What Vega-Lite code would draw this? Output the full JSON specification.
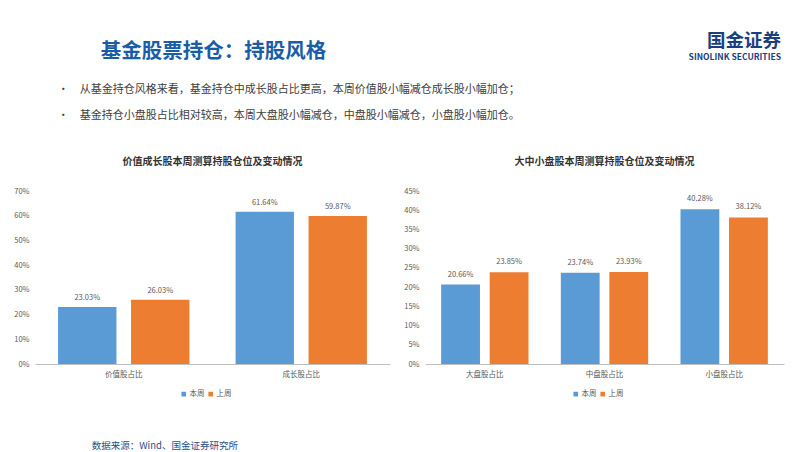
{
  "$schema": "https://vega.github.io/schema/vega-lite/v6.json",
  "background": "white",
  "padding": {"top": 31, "left": 13, "right": 10, "bottom": 2},
  "config": {
    "font": "Noto Sans CJK SC",
    "view": {"stroke": null},
    "axis": {"labelFont": "Noto Sans CJK SC", "labelColor": "#595959", "labelFontSize": 7.5},
    "legend": {"labelFont": "Noto Sans CJK SC", "labelFontSize": 7.5, "labelColor": "#595959", "symbolType": "square", "symbolSize": 22, "title": null, "direction": "horizontal", "columnPadding": 2, "labelOffset": 2, "symbolStrokeWidth": 0},
    "title": {"font": "Noto Sans CJK SC"}
  },
  "title": {"text": "国金证券\u2002\u2009", "subtitle": "SINOLINK SECURITIES", "anchor": "end", "fontSize": 18.5, "fontWeight": "bold", "color": "#1B3F7E", "subtitleFontSize": 8.5, "subtitleFontWeight": "bold", "subtitleColor": "#1B3F7E", "subtitlePadding": 3, "dx": -3, "dy": 20, "offset": 0},
  "vconcat": [
    {
      "title": {"text": "数据来源：Wind、国金证券研究所", "orient": "bottom", "anchor": "start", "fontSize": 9.5, "fontWeight": "normal", "color": "#1F4E8C", "dx": 78, "offset": 43},
      "vconcat": [
        {
          "title": {"text": "基金股票持仓：持股风格", "anchor": "start", "fontSize": 20.5, "fontWeight": "bold", "color": "#1A5DA6", "dx": 87, "offset": 22},
          "vconcat": [
            {
              "title": {"text": ["•\u2003从基金持仓风格来看，基金持仓中成长股占比更高，本周价值股小幅减仓成长股小幅加仓；", "•\u2003基金持仓小盘股占比相对较高，本周大盘股小幅减仓，中盘股小幅减仓，小盘股小幅加仓。"], "anchor": "start", "fontSize": 11, "fontWeight": "normal", "color": "#404040", "lineHeight": 26, "dx": 44, "offset": 36},
              "hconcat": [
                {
                  "width": 355,
                  "height": 173,
                  "title": {"text": "价值成长股本周测算持股仓位及变动情况", "fontSize": 10, "fontWeight": "bold", "color": "#333333", "offset": 20},
                  "data": {"values": [
                    {"category": "价值股占比", "period": "本周", "value": 0.2303},
                    {"category": "价值股占比", "period": "上周", "value": 0.2603},
                    {"category": "成长股占比", "period": "本周", "value": 0.6164},
                    {"category": "成长股占比", "period": "上周", "value": 0.5987}
                  ]},
                  "encoding": {
                    "x": {"field": "category", "type": "nominal", "sort": ["价值股占比", "成长股占比"], "scale": {"paddingInner": 0.26, "paddingOuter": 0.13}, "axis": {"title": null, "labelAngle": 0, "domainColor": "#BFBFBF", "ticks": false, "labelPadding": 6}},
                    "xOffset": {"field": "period", "type": "nominal", "sort": ["本周", "上周"], "scale": {"paddingInner": 0.2}},
                    "y": {"field": "value", "type": "quantitative", "scale": {"domain": [0, 0.7]}, "axis": {"title": null, "format": ".0%", "values": [0, 0.1, 0.2, 0.3, 0.4, 0.5, 0.6, 0.7], "grid": false, "domain": false, "ticks": false, "labelPadding": 6}}
                  },
                  "layer": [
                    {"mark": {"type": "bar"}, "encoding": {"color": {"field": "period", "type": "nominal", "sort": ["本周", "上周"], "scale": {"domain": ["本周", "上周"], "range": ["#5B9BD5", "#ED7D31"]}, "legend": {"orient": "none", "legendX": 145, "legendY": 199}}}},
                    {"mark": {"type": "text", "dy": -9, "fontSize": 7.5, "color": "#595959"}, "encoding": {"text": {"field": "value", "type": "quantitative", "format": ".2%"}}}
                  ]
                },
                {
                  "width": 359,
                  "height": 173,
                  "title": {"text": "大中小盘股本周测算持股仓位及变动情况", "fontSize": 10, "fontWeight": "bold", "color": "#333333", "offset": 20},
                  "data": {"values": [
                    {"category": "大盘股占比", "period": "本周", "value": 0.2066},
                    {"category": "大盘股占比", "period": "上周", "value": 0.2385},
                    {"category": "中盘股占比", "period": "本周", "value": 0.2374},
                    {"category": "中盘股占比", "period": "上周", "value": 0.2393},
                    {"category": "小盘股占比", "period": "本周", "value": 0.4028},
                    {"category": "小盘股占比", "period": "上周", "value": 0.3812}
                  ]},
                  "encoding": {
                    "x": {"field": "category", "type": "nominal", "sort": ["大盘股占比", "中盘股占比", "小盘股占比"], "scale": {"paddingInner": 0.27, "paddingOuter": 0.135}, "axis": {"title": null, "labelAngle": 0, "domainColor": "#BFBFBF", "ticks": false, "labelPadding": 6}},
                    "xOffset": {"field": "period", "type": "nominal", "sort": ["本周", "上周"], "scale": {"paddingInner": 0.2}},
                    "y": {"field": "value", "type": "quantitative", "scale": {"domain": [0, 0.45]}, "axis": {"title": null, "format": ".0%", "values": [0, 0.05, 0.1, 0.15, 0.2, 0.25, 0.3, 0.35, 0.4, 0.45], "grid": false, "domain": false, "ticks": false, "labelPadding": 6}}
                  },
                  "layer": [
                    {"mark": {"type": "bar"}, "encoding": {"color": {"field": "period", "type": "nominal", "sort": ["本周", "上周"], "scale": {"domain": ["本周", "上周"], "range": ["#5B9BD5", "#ED7D31"]}, "legend": {"orient": "none", "legendX": 147, "legendY": 199}}}},
                    {"mark": {"type": "text", "dy": -10, "fontSize": 7.5, "color": "#595959"}, "encoding": {"text": {"field": "value", "type": "quantitative", "format": ".2%"}}}
                  ]
                }
              ],
              "spacing": 13,
              "resolve": {"scale": {"color": "independent", "xOffset": "independent", "x": "independent", "y": "independent"}, "legend": {"color": "independent"}}
            }
          ]
        }
      ]
    }
  ]
}
